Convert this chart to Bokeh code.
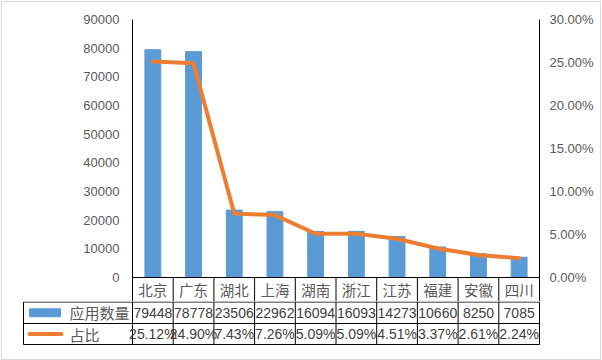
from bokeh.plotting import figure
from bokeh.models import Range1d, LinearAxis, FactorRange, NumeralTickFormatter, FixedTicker
from bokeh.embed import file_html
from bokeh.resources import INLINE
from bokeh.core.properties import value

# ---- data ----
cats = ["北京", "广东", "湖北", "上海", "湖南", "浙江", "江苏", "福建", "安徽", "四川"]
counts = [79448, 78778, 23506, 22962, 16094, 16093, 14273, 10660, 8250, 7085]
shares = [25.12, 24.90, 7.43, 7.26, 5.09, 5.09, 4.51, 3.37, 2.61, 2.24]
series_names = ["应用数量", "占比"]
left_ticks = [0, 10000, 20000, 30000, 40000, 50000, 60000, 70000, 80000, 90000]
right_ticks = [0.0, 0.05, 0.10, 0.15, 0.20, 0.25, 0.30]

share_frac = [s / 100 for s in shares]
count_labels = [str(c) for c in counts]
share_labels = [f"{s:.2f}%" for s in shares]

BLUE = "#5b9bd5"
ORANGE = "#ed7d31"
AXIS_TXT = "#595959"
VAL_TXT = "#404040"
BORDER = "#d9d9d9"
NUM_FONT = "Liberation Sans"
CJK_FONT = "Noto Sans CJK SC"

W = 602
PLOT_L, PLOT_R, PLOT_T, PLOT_B = 132, 539, 19, 277   # plot area (value 0 at PLOT_B)
HDR_B = 301                                          # bottom of category header row
LMAX, RMAX = 90000, 0.30
ext = (HDR_B - PLOT_B) / (PLOT_B - PLOT_T)           # extension below zero, as fraction
n = len(cats)
cw = (PLOT_R - PLOT_L) / n

g = f"linear-gradient({BORDER},{BORDER})"
main_border = {
    "background-color": "white",
    "background-image": f"{g},{g},{g}",
    "background-size": "1px 100%, 600px 1px, 1px 100%",
    "background-position": "1px 1px, 1px 1px, 600px 1px",
    "background-repeat": "no-repeat",
}
table_border = {
    "background-color": "white",
    "background-image": f"{g},{g},{g}",
    "background-size": "1px 100%, 600px 1px, 1px 100%",
    "background-position": "1px 0px, 1px 58px, 600px 0px",
    "background-repeat": "no-repeat",
}

# ---- main chart (frame extends down through the category header row) ----
p = figure(x_range=FactorRange(factors=cats), y_range=Range1d(-ext * LMAX, LMAX),
           width=W, height=HDR_B, output_backend="svg", toolbar_location=None,
           min_border_left=PLOT_L, min_border_right=W - PLOT_R, min_border_top=PLOT_T,
           min_border_bottom=0, x_axis_location=None, y_axis_location="left",
           styles=main_border)
p.extra_y_ranges = {"pct": Range1d(-ext * RMAX, RMAX)}
p.outline_line_color = None
p.border_fill_color = None
p.background_fill_color = None
p.xgrid.visible = False
p.ygrid.visible = False

p.vbar(x=cats, top=counts, width=0.39, color=BLUE)
p.line(x=cats, y=share_frac, y_range_name="pct", line_color=ORANGE, line_width=4,
       line_join="round", line_cap="round")

# category axis line and header-row separators (synthetic categorical coordinates)
y_sep_bottom = -ext * LMAX
p.segment(x0=[0], y0=[0], x1=[n], y1=[0], line_color="black", line_width=1)
p.segment(x0=list(range(1, n)), y0=[0] * (n - 1), x1=list(range(1, n)),
          y1=[y_sep_bottom] * (n - 1), line_color="black", line_width=1)
p.text(x=cats, y=[-ext * LMAX / 2] * n, text=cats, text_align="center",
       text_baseline="middle", text_font=value(CJK_FONT), text_font_size="14.5px",
       text_color=AXIS_TXT)

ya = p.yaxis[0]
ya.ticker = FixedTicker(ticks=left_ticks)
ya.formatter = NumeralTickFormatter(format="0")
ya.major_tick_line_color = None
ya.minor_tick_line_color = None
ya.major_tick_out = 0
ya.major_tick_in = 0
ya.axis_line_color = "black"
ya.major_label_text_font = NUM_FONT
ya.major_label_text_font_size = "13px"
ya.major_label_text_color = AXIS_TXT
ya.major_label_standoff = 13

ra = LinearAxis(y_range_name="pct", ticker=FixedTicker(ticks=right_ticks),
                formatter=NumeralTickFormatter(format="0.00%"))
ra.major_tick_line_color = None
ra.minor_tick_line_color = None
ra.major_tick_out = 0
ra.major_tick_in = 0
ra.axis_line_color = "black"
ra.major_label_text_font = NUM_FONT
ra.major_label_text_font_size = "13px"
ra.major_label_text_color = AXIS_TXT
ra.major_label_standoff = 10
p.add_layout(ra, "right")

# ---- data table below (coordinates of this figure are page pixels) ----
cat_x = [PLOT_L + (i + 0.5) * cw for i in range(n)]
TBL_L = 23
ROW_1, ROW_2, ROW_END = HDR_B + 0.5, 323, 344
T_BOT = 345
T_H = 360 - HDR_B

t = figure(x_range=Range1d(22, 541), y_range=Range1d(T_BOT, HDR_B),
           width=W, height=T_H, output_backend="svg", toolbar_location=None,
           min_border_left=22, min_border_right=W - 541, min_border_top=0,
           min_border_bottom=T_H - (T_BOT - HDR_B), x_axis_location=None, y_axis_location=None,
           styles=table_border)
t.outline_line_color = None
t.border_fill_color = None
t.background_fill_color = None
t.xgrid.visible = False
t.ygrid.visible = False

hy = [ROW_1, ROW_2, ROW_END]
t.segment(x0=[TBL_L] * 3, y0=hy, x1=[PLOT_R] * 3, y1=hy, line_color="black", line_width=1)
vx = [PLOT_L + k * cw for k in range(n + 1)] + [TBL_L]
t.segment(x0=vx, y0=[ROW_1] * len(vx), x1=vx, y1=[ROW_END] * len(vx),
          line_color="black", line_width=1)

y_r1 = (ROW_1 + ROW_2) / 2
y_r2 = (ROW_2 + ROW_END) / 2
t.text(x=cat_x, y=[y_r1] * n, text=count_labels, text_align="center", text_baseline="middle",
       text_font=value(NUM_FONT), text_font_size="14px", text_color=VAL_TXT)
t.text(x=cat_x, y=[y_r2] * n, text=share_labels, text_align="center", text_baseline="middle",
       text_font=value(NUM_FONT), text_font_size="14px", text_color=VAL_TXT)

# legend keys
t.rect(x=[44.5], y=[y_r1], width=31, height=8, width_units="screen",
       height_units="screen", color=BLUE)
t.segment(x0=[29], y0=[y_r2], x1=[61], y1=[y_r2], line_color=ORANGE,
          line_width=4, line_cap="round")
t.text(x=[69, 69], y=[y_r1, y_r2], text=series_names, text_align="left",
       text_baseline="middle", text_font=value(CJK_FONT), text_font_size="15px",
       text_color=AXIS_TXT)

open("out.html", "w").write(file_html([p, t], INLINE))
